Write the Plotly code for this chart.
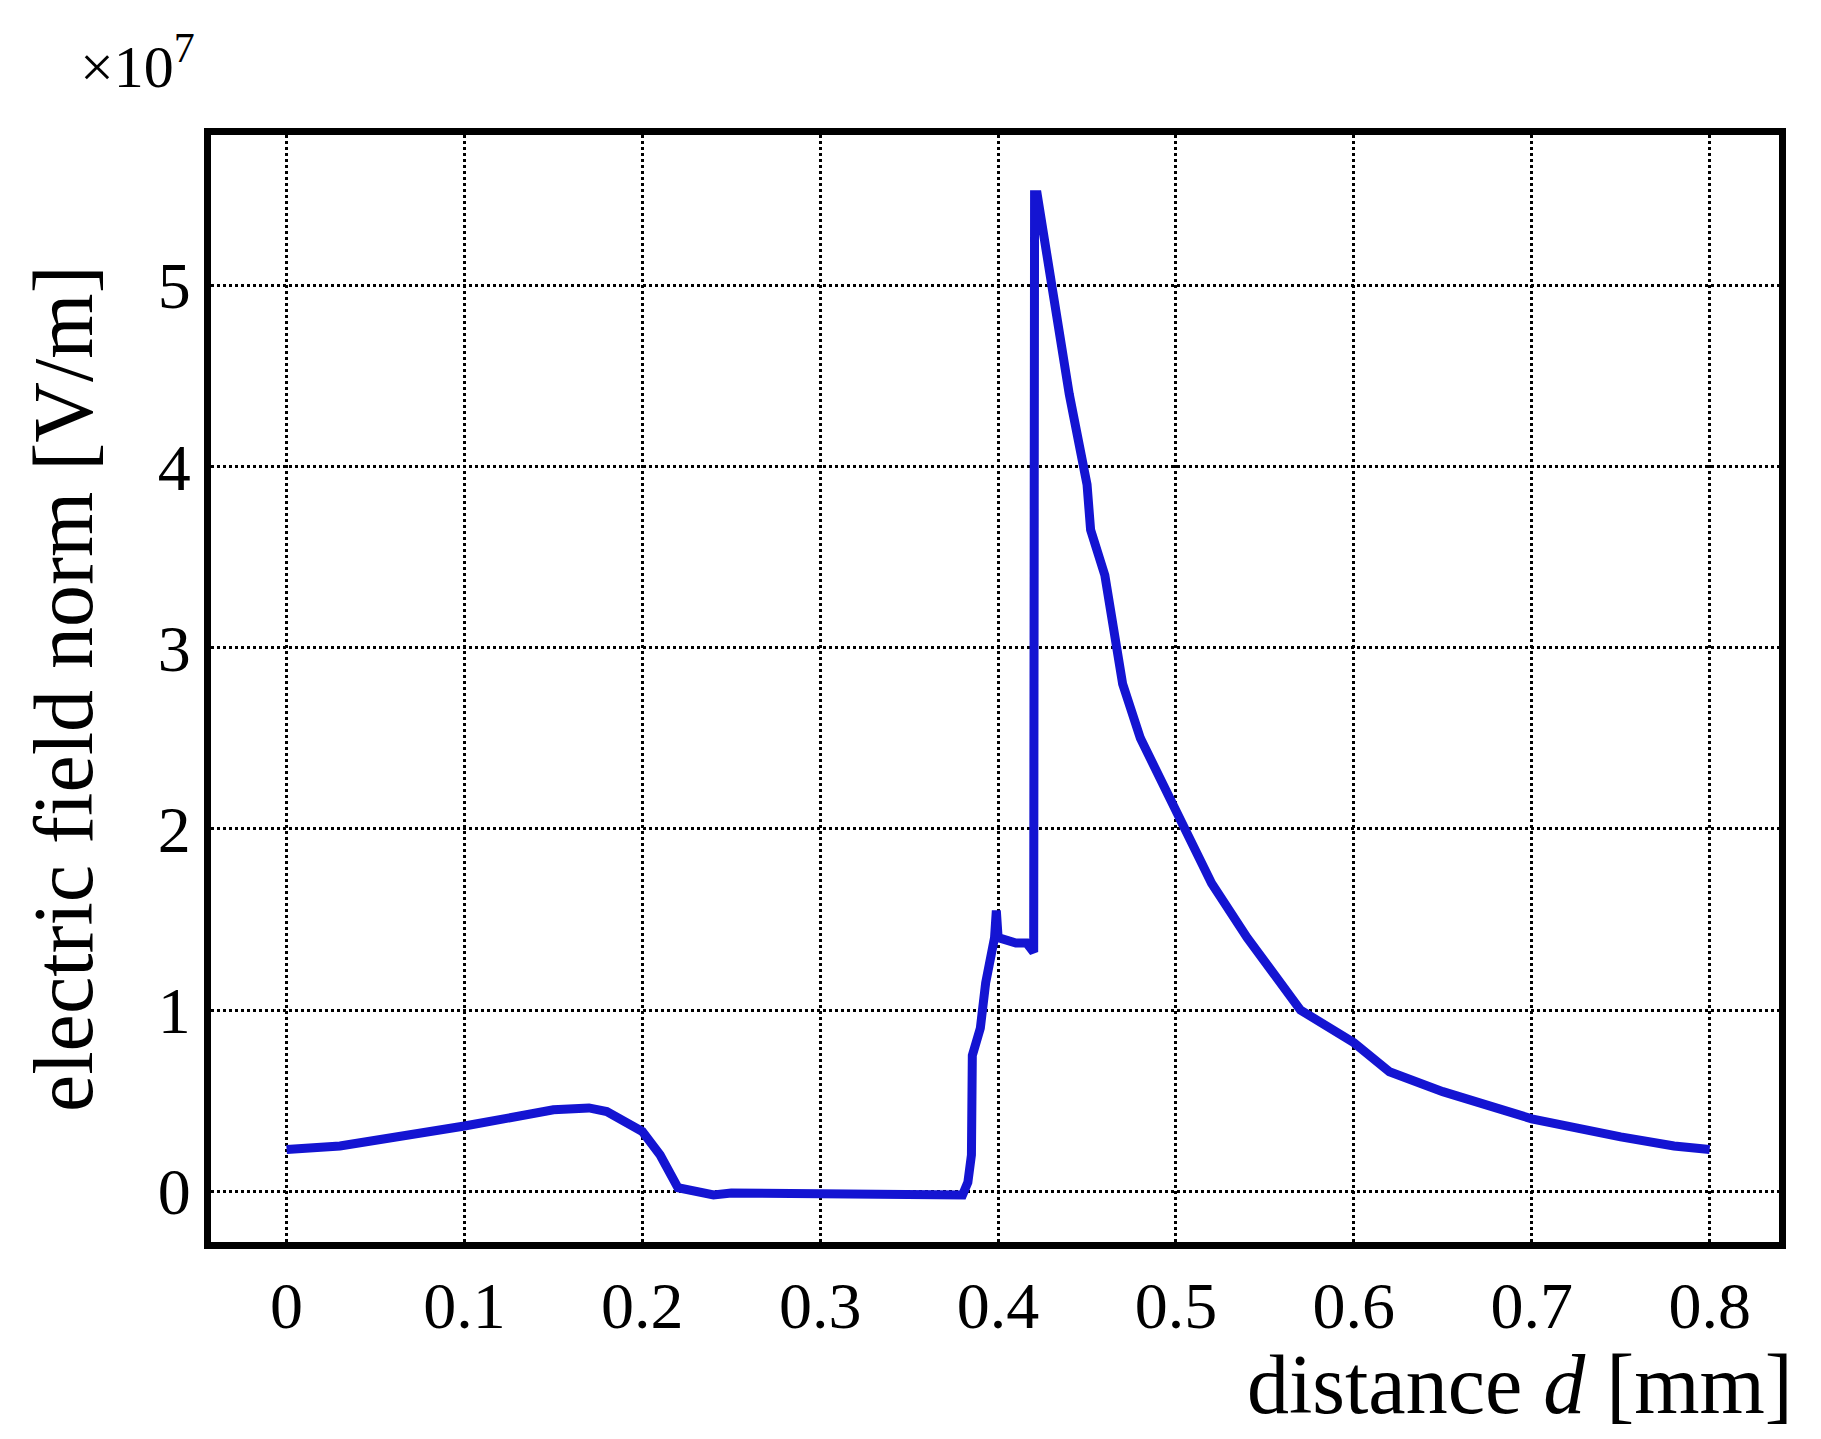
import plotly.graph_objects as go

x = [0, 0.03, 0.1, 0.15, 0.17, 0.18, 0.2, 0.21, 0.22, 0.24, 0.25, 0.29, 0.3, 0.38, 0.383, 0.385, 0.3855,
     0.39, 0.393, 0.398, 0.399, 0.4, 0.41, 0.416, 0.42, 0.4205, 0.422, 0.43, 0.44, 0.45, 0.452, 0.46,
     0.47, 0.48, 0.5, 0.52, 0.54, 0.57, 0.6, 0.62, 0.65, 0.7, 0.75, 0.78, 0.8]
y = [0.23, 0.25, 0.36, 0.45, 0.46, 0.44, 0.33, 0.2, 0.02, -0.02, -0.01, -0.01, -0.02, -0.02, 0.05, 0.2, 0.75,
     0.9, 1.15, 1.4, 1.55, 1.4, 1.37, 1.37, 1.32, 5.5, 5.5, 5.0, 4.4, 3.9, 3.65, 3.4,
     2.8, 2.5, 2.1, 1.7, 1.4, 1.0, 0.82, 0.66, 0.55, 0.4, 0.3, 0.25, 0.23]
xticks = [0, 0.1, 0.2, 0.3, 0.4, 0.5, 0.6, 0.7, 0.8]
yticks = [0, 1, 2, 3, 4, 5]

font = "Liberation Serif"
fig = go.Figure(go.Scatter(x=x, y=y, mode="lines", line=dict(color="#1414d2", width=9)))
ax = dict(showline=True, linecolor="black", linewidth=7, mirror=True, ticks="",
          showgrid=True, gridcolor="black", griddash="dot", gridwidth=3, zeroline=False,
          tickfont=dict(family=font, size=66, color="black"))
fig.update_xaxes(range=[-0.0425, 0.839], tickvals=xticks, ticktext=[str(t) for t in xticks], **ax)
fig.update_yaxes(range=[-0.28, 5.83], tickvals=yticks, ticktext=[str(t) for t in yticks], **ax)
fig.update_layout(width=1821, height=1439, paper_bgcolor="white", plot_bgcolor="white",
                  margin=dict(l=203, r=50, t=127, b=205), showlegend=False,
                  annotations=[
                      dict(text="electric field norm [V/m]", textangle=-90, xref="paper", yref="paper",
                           x=-0.125, y=0.5, showarrow=False, font=dict(family=font, size=84, color="black")),
                      dict(text="distance <i>d</i> [mm]", xref="paper", yref="paper", x=1.01, y=-0.085,
                           xanchor="right", yanchor="top", showarrow=False,
                           font=dict(family=font, size=84, color="black")),
                      dict(text="×10<sup>7</sup>", xref="paper", yref="paper", x=-0.085, y=1.03,
                           xanchor="left", yanchor="bottom", showarrow=False,
                           font=dict(family=font, size=60, color="black")),
                  ])
fig.write_html("out.html")
